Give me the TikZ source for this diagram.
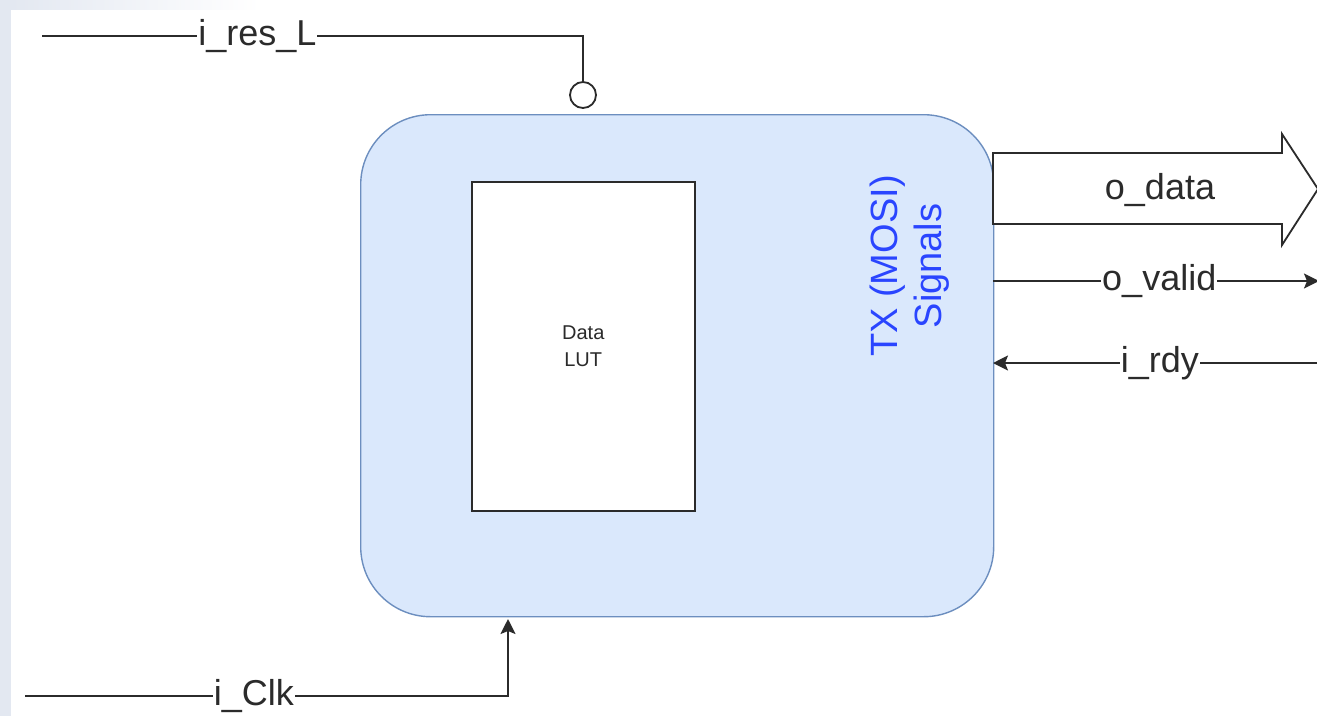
\documentclass[tikz,border=0pt]{standalone}
\usepackage{fontspec}
\setmainfont{Liberation Sans}
\usetikzlibrary{arrows.meta}
\definecolor{boxfill}{HTML}{DAE8FC}
\definecolor{boxline}{HTML}{6C8EBF}
\definecolor{sigblue}{HTML}{2A45FF}
\definecolor{frost}{HTML}{E3E8F1}
\definecolor{ink}{HTML}{2B2B2B}
\begin{document}
\begin{tikzpicture}[x=1pt,y=-1pt,
  wire/.style={draw=ink, line width=1.8pt},
  tip/.style={-{Stealth[length=15pt,width=15pt,inset=3pt]}},
  big/.style={font=\fontsize{36}{43}\selectfont, text=ink},
  lbl/.style={big, fill=white, inner xsep=1pt, inner ysep=0pt},
]
\useasboundingbox (0,0) rectangle (1317,716);
\clip (0,0) rectangle (1317,716);
\fill[white] (0,0) rectangle (1317,716);
% frosted margin along the left and top edges
\fill[frost] (0,0) rectangle (11,716);
\shade[left color=frost, right color=white] (11,0) rectangle (260,9);

% main block
\node[draw=boxline, fill=boxfill, line width=1.4pt, rounded corners=70pt,
      minimum width=633pt, minimum height=502pt, inner sep=0pt,
      anchor=north west] (core) at (360,114) {};

% lookup table
\node[draw=ink, fill=white, line width=1.5pt, minimum width=223pt,
      minimum height=329pt, inner sep=0pt, anchor=north west] (lut) at (471,181) {};
\node[font=\fontsize{20}{27}\selectfont, text=ink, align=center] (luttext) at (lut.center) {Data\\LUT};

% interface caption
\node[rotate=90, align=center, font=\fontsize{38}{44}\selectfont, text=sigblue] (tx) at (910,266) {TX (MOSI)\\Signals};

% wide data bus arrow
\coordinate (b1) at (993,153);
\coordinate (b2) at (1282,153);
\coordinate (b3) at (1282,134);
\coordinate (b4) at (1318,189);
\coordinate (b5) at (1282,245);
\coordinate (b6) at (1282,224);
\coordinate (b7) at (993,224);
\draw[wire, fill=white, line join=miter] (b1) -- (b2) -- (b3) -- (b4) -- (b5) -- (b6) -- (b7) -- cycle;
\node[big] (dlabel) at (1160,190) {o\_data};

% handshake lines
\coordinate (vS) at (993,281);
\coordinate (vE) at (1319,281);
\draw[wire, tip] (vS) -- node[lbl, pos=0.51] {o\_valid} (vE);
\coordinate (rS) at (1320,363);
\coordinate (rE) at (993,363);
\draw[wire, tip] (rS) -- node[lbl, pos=0.49] {i\_rdy} (rE);

% active-low reset
\coordinate (resS) at (42,36);
\node[circle, wire, fill=white, minimum size=26pt, inner sep=0pt] (inv) at (583,95) {};
\draw[wire] (resS) -| node[lbl, pos=0.199] {i\_res\_L} (inv.north);

% clock
\coordinate (clkS) at (25,696);
\coordinate (clkE) at (508,619);
\draw[wire, tip] (clkS) -| node[lbl, pos=0.237] {i\_Clk} (clkE);
\end{tikzpicture}
\end{document}
